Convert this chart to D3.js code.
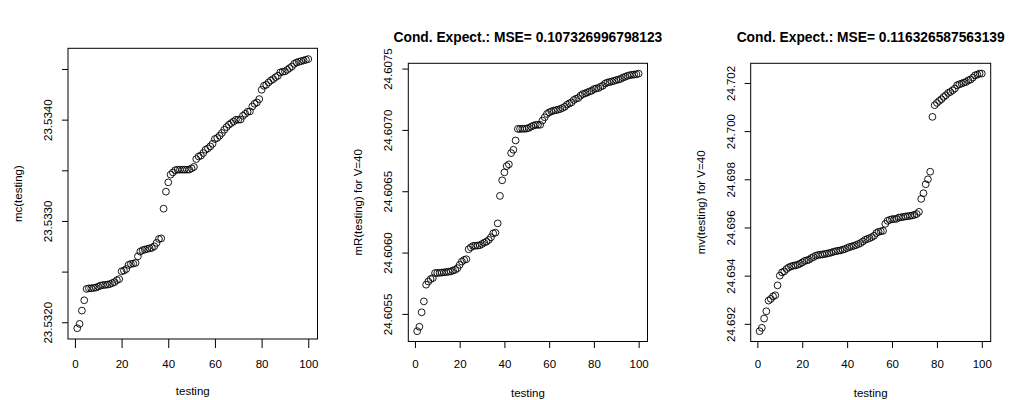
<!DOCTYPE html>
<html>
<head>
<meta charset="utf-8">
<script src="https://cdn.jsdelivr.net/npm/d3@7"></script>
<style>
  body { margin: 0; background: #fff; }
  svg text { font-family: "Liberation Sans", Arial, Helvetica, sans-serif; fill: #000; }
  .tick text { font-size: 11.5px; }
</style>
</head>
<body>
<div id="chart"></div>
<script>
var testing = [1,2,3,4,5,6,7,8,9,10,11,12,13,14,15,16,17,18,19,20,
  21,22,23,24,25,26,27,28,29,30,31,32,33,34,35,36,37,38,39,40,
  41,42,43,44,45,46,47,48,49,50,51,52,53,54,55,56,57,58,59,60,
  61,62,63,64,65,66,67,68,69,70,71,72,73,74,75,76,77,78,79,80,
  81,82,83,84,85,86,87,88,89,90,91,92,93,94,95,96,97,98,99,100];

var mcValues = [23.531941, 23.531984, 23.532115, 23.532217, 23.532329, 23.532335, 23.532335, 23.532339, 23.532342, 23.532352,
  23.532362, 23.532367, 23.532369, 23.532372, 23.532377, 23.532387, 23.532396, 23.532416, 23.532426, 23.532503,
  23.532510, 23.532525, 23.532566, 23.532576, 23.532579, 23.532586, 23.532651, 23.532697, 23.532712, 23.532717,
  23.532724, 23.532730, 23.532734, 23.532750, 23.532783, 23.532822, 23.532828, 23.533121, 23.533289, 23.533381,
  23.533457, 23.533479, 23.533501, 23.533506, 23.533506, 23.533506, 23.533506, 23.533506, 23.533507, 23.533519,
  23.533533, 23.533611, 23.533637, 23.533644, 23.533671, 23.533703, 23.533716, 23.533736, 23.533762, 23.533809,
  23.533819, 23.533841, 23.533868, 23.533900, 23.533927, 23.533950, 23.533966, 23.533982, 23.533999, 23.533999,
  23.534001, 23.534038, 23.534058, 23.534078, 23.534081, 23.534130, 23.534157, 23.534170, 23.534203, 23.534295,
  23.534334, 23.534344, 23.534367, 23.534387, 23.534400, 23.534420, 23.534433, 23.534466, 23.534473, 23.534476,
  23.534492, 23.534509, 23.534525, 23.534551, 23.534564, 23.534571, 23.534578, 23.534584, 23.534591, 23.534598];

var mRValues = [24.605359, 24.605395, 24.605513, 24.605602, 24.605738, 24.605764, 24.605784, 24.605792, 24.605833, 24.605834,
  24.605835, 24.605837, 24.605839, 24.605841, 24.605844, 24.605846, 24.605854, 24.605859, 24.605873, 24.605900,
  24.605927, 24.605940, 24.605946, 24.606027, 24.606043, 24.606054, 24.606056, 24.606057, 24.606060, 24.606070,
  24.606081, 24.606089, 24.606103, 24.606125, 24.606157, 24.606162, 24.606238, 24.606462, 24.606589, 24.606654,
  24.606705, 24.606719, 24.606811, 24.606838, 24.606914, 24.607008, 24.607008, 24.607009, 24.607009, 24.607011,
  24.607017, 24.607027, 24.607035, 24.607041, 24.607041, 24.607042, 24.607076, 24.607103, 24.607130, 24.607143,
  24.607151, 24.607157, 24.607161, 24.607165, 24.607171, 24.607179, 24.607189, 24.607206, 24.607216, 24.607224,
  24.607244, 24.607254, 24.607260, 24.607279, 24.607292, 24.607297, 24.607305, 24.607313, 24.607319, 24.607333,
  24.607338, 24.607341, 24.607352, 24.607360, 24.607378, 24.607386, 24.607390, 24.607395, 24.607400, 24.607406,
  24.607411, 24.607416, 24.607427, 24.607433, 24.607441, 24.607446, 24.607449, 24.607451, 24.607454, 24.607459];

var mvValues = [24.691694, 24.691834, 24.692219, 24.692521, 24.692964, 24.693035, 24.693142, 24.693184, 24.693597, 24.694000,
  24.694135, 24.694177, 24.694276, 24.694342, 24.694383, 24.694412, 24.694425, 24.694454, 24.694495, 24.694549,
  24.694607, 24.694632, 24.694661, 24.694731, 24.694772, 24.694826, 24.694855, 24.694868, 24.694880, 24.694897,
  24.694915, 24.694938, 24.694960, 24.694992, 24.695015, 24.695033, 24.695050, 24.695075, 24.695105, 24.695145,
  24.695186, 24.695210, 24.695240, 24.695270, 24.695310, 24.695352, 24.695418, 24.695488, 24.695520, 24.695559,
  24.695600, 24.695654, 24.695766, 24.695819, 24.695840, 24.695861, 24.696150, 24.696275, 24.696316, 24.696345,
  24.696350, 24.696357, 24.696411, 24.696420, 24.696440, 24.696455, 24.696468, 24.696481, 24.696500, 24.696523,
  24.696560, 24.696647, 24.697185, 24.697421, 24.697793, 24.698000, 24.698315, 24.700591, 24.701075, 24.701170,
  24.701253, 24.701323, 24.701418, 24.701489, 24.701584, 24.701625, 24.701695, 24.701766, 24.701902, 24.701944,
  24.701973, 24.702014, 24.702039, 24.702109, 24.702138, 24.702221, 24.702316, 24.702345, 24.702387, 24.702387];

var xTicks = [0, 20, 40, 60, 80, 100];
var mcTicks = [23.532, 23.5325, 23.533, 23.5335, 23.534, 23.5345];
var mcTickLabels = ["23.5320", "", "23.5330", "", "23.5340", ""];
var mRTicks = [24.6055, 24.606, 24.6065, 24.607, 24.6075];
var mRTickLabels = ["24.6055", "24.6060", "24.6065", "24.6070", "24.6075"];
var mvTicks = [24.692, 24.694, 24.696, 24.698, 24.700, 24.702];
var mvTickLabels = ["24.692", "24.694", "24.696", "24.698", "24.700", "24.702"];
var titles = ["", "Cond. Expect.: MSE= 0.107326996798123", "Cond. Expect.: MSE= 0.116326587563139"];
var yLabels = ["mc(testing)", "mR(testing) for V=40", "mv(testing) for V=40"];

var svg = d3.select("#chart")
  .append("svg")
  .attr("width", 1018)
  .attr("height", 400);

// R style: 4% padding of data range on both axes
function rPad(ext) {
  var d = (ext[1] - ext[0]) * 0.04;
  return [ext[0] - d, ext[1] + d];
}

function drawPanel(box, values, yTicks, yTickLabels, title, yLabel) {
  var x = d3.scaleLinear().domain(rPad(d3.extent(testing))).range([box.left, box.right]);
  var y = d3.scaleLinear().domain(rPad(d3.extent(values))).range([box.bottom, box.top]);

  var g = svg.append("g");

  var xAxis = d3.axisBottom(x).tickValues(xTicks).tickSize(348 - box.bottom).tickSizeOuter(0);
  var xg = g.append("g")
    .attr("transform", "translate(0," + box.bottom + ")")
    .call(xAxis);
  xg.select(".domain").remove();
  xg.selectAll(".tick line").attr("stroke", "#000");
  xg.selectAll(".tick text")
    .attr("dy", null)
    .attr("y", 368 - box.bottom);

  var yAxis = d3.axisLeft(y).tickValues(yTicks).tickSize(6).tickSizeOuter(0)
    .tickFormat(function(d, i) { return yTickLabels[i]; });
  var yg = g.append("g")
    .attr("transform", "translate(" + box.left + ",0)")
    .call(yAxis);
  yg.select(".domain").remove();
  yg.selectAll(".tick line").attr("stroke", "#000");
  yg.selectAll(".tick text")
    .attr("x", 0)
    .attr("dy", null)
    .attr("text-anchor", "middle")
    .attr("transform", "translate(-16,0) rotate(-90)");

  g.append("rect")
    .attr("x", box.left)
    .attr("y", box.top)
    .attr("width", box.right - box.left)
    .attr("height", box.bottom - box.top)
    .attr("fill", "none")
    .attr("stroke", "#000")
    .attr("stroke-width", 1);

  g.selectAll("circle")
    .data(values)
    .enter().append("circle")
    .attr("cx", function(d, i) { return x(testing[i]); })
    .attr("cy", function(d) { return y(d); })
    .attr("r", 3.4)
    .attr("fill", "none")
    .attr("stroke", "#000")
    .attr("stroke-width", 0.9);

  var cx = (box.left + box.right) / 2;
  var cy = (box.top + box.bottom) / 2;

  if (title) {
    g.append("text")
      .attr("x", cx)
      .attr("y", 42)
      .attr("text-anchor", "middle")
      .style("font-size", "13.8px")
      .style("font-weight", "bold")
      .text(title);
  }

  g.append("text")
    .attr("x", cx)
    .attr("y", box.bottom + 55.5)
    .attr("text-anchor", "middle")
    .style("font-size", "11.5px")
    .text("testing");

  g.append("text")
    .attr("transform", "translate(" + (box.left - 46) + "," + cy + ") rotate(-90)")
    .attr("text-anchor", "middle")
    .style("font-size", "11.5px")
    .text(yLabel);
}

drawPanel({ left: 68, right: 317.5, top: 48.3, bottom: 339 }, mcValues, mcTicks, mcTickLabels, titles[0], yLabels[0]);
drawPanel({ left: 408.3, right: 647.5, top: 63.3, bottom: 341.5 }, mRValues, mRTicks, mRTickLabels, titles[1], yLabels[1]);
drawPanel({ left: 750.7, right: 990.7, top: 63.3, bottom: 341.5 }, mvValues, mvTicks, mvTickLabels, titles[2], yLabels[2]);
</script>
</body>
</html>
